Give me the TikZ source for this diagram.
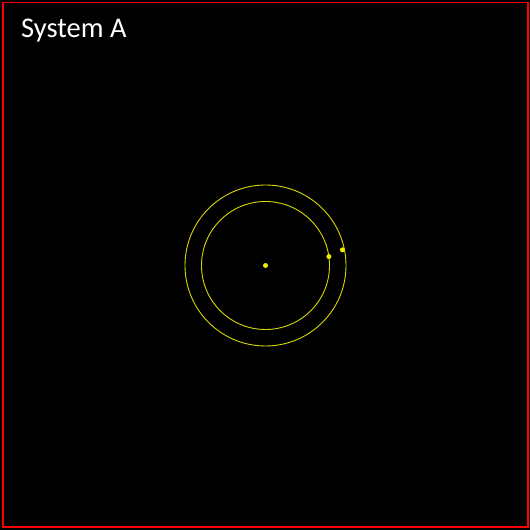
\documentclass[tikz,border=0pt]{standalone}
\usepackage{fontspec}
\setmainfont{Carlito}
\usetikzlibrary{calc}
\definecolor{orbit}{HTML}{D8D800}
\definecolor{body}{HTML}{F2EA00}
\definecolor{frame}{HTML}{FF0000}

\begin{document}
\begin{tikzpicture}[x=1pt, y=1pt,
  bd/.style={circle, fill=body, inner sep=0pt, minimum size=5pt},
  orb/.style={draw=orbit, line width=0.9pt}
]
  % background and frame
  \fill[black] (0,0) rectangle (530,530);
  \draw[frame, line width=1.2pt] (3,3) rectangle (528,527.5);
  \node[anchor=base west, text=white, font=\fontsize{28.5}{32}\selectfont, inner sep=0pt] (title) at (21,492.5) {System A};
  % star and orbits
  \node[bd] (star) at (265.5,264.5) {};
  \draw[orb] (star.center) circle (64);
  \draw[orb] (star.center) circle (80.5);
  \node[bd] (p1) at ($(star.center)+(8:64)$) {};
  \node[bd] (p2) at ($(star.center)+(11.5:78.5)$) {};
\end{tikzpicture}
\end{document}
